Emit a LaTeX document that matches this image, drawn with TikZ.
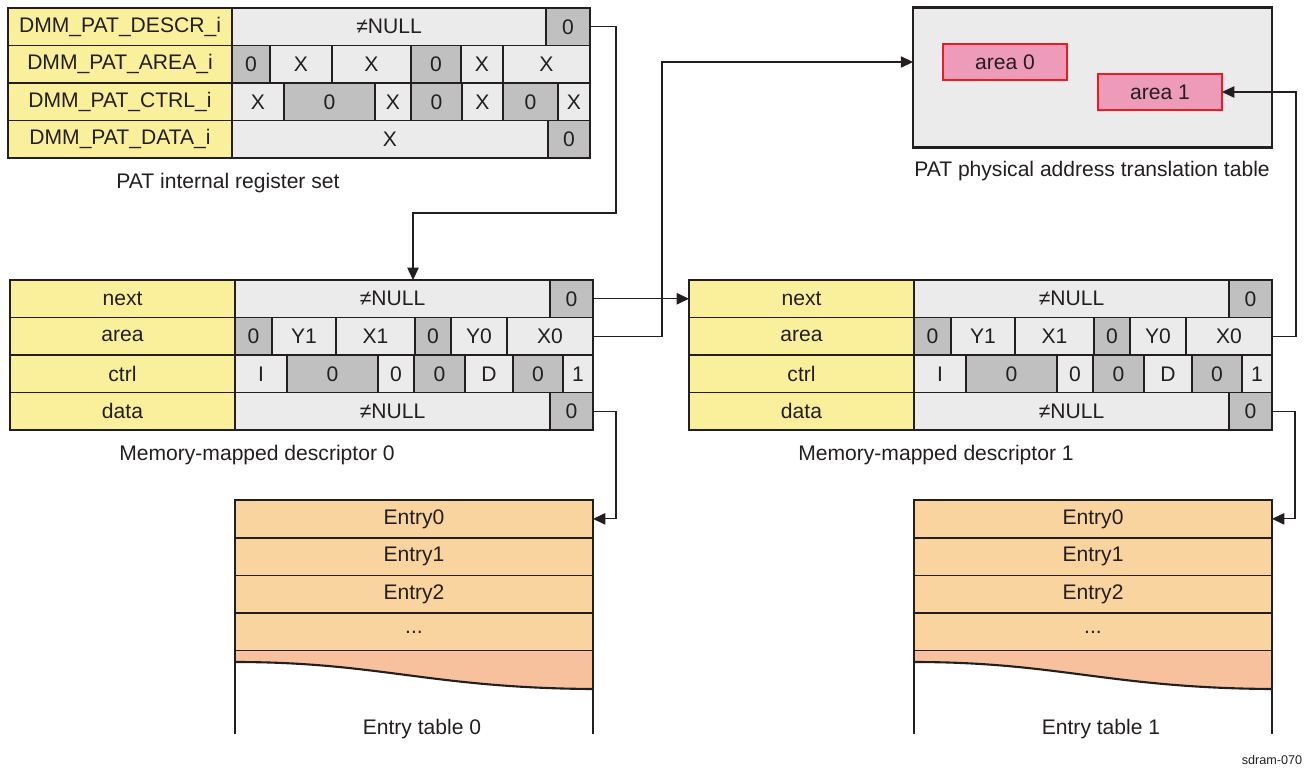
\documentclass[tikz,border=0pt]{standalone}
\usepackage{fontspec}
\setmainfont{Liberation Sans}
\usepackage{tikz}
\usetikzlibrary{arrows.meta,positioning,calc}
\definecolor{lbl}{HTML}{FAF09B}
\definecolor{lite}{HTML}{EBEBEB}
\definecolor{dark}{HTML}{C0C0C0}
\definecolor{entry}{HTML}{FAD49E}
\definecolor{tail}{HTML}{F7C19E}
\definecolor{areafill}{HTML}{EE9BB9}
\definecolor{areared}{HTML}{ED1C24}
\definecolor{ink}{HTML}{231F20}

\begin{document}
\begin{tikzpicture}[x=0.02cm, y=-0.02cm,
    every node/.style={font=\fontsize{12}{14}\selectfont, text=ink},
    fld/.style={rectangle, draw=ink, line width=1pt, inner sep=0pt, outer sep=0pt, minimum height=0.75cm},
    arr/.style={-{Triangle[length=7pt,width=6.5pt]}, line width=0.6pt, draw=ink},
  ]
  \useasboundingbox (0,0) rectangle (1307,767);

  % PAT internal register set, 4 rows of 37.5 starting at y=8
  \foreach \a/\b/\f/\t [count=\i] in {8/232/lbl/DMM\_PAT\_DESCR\_i, 232/546/lite/≠NULL, 546/590/dark/0}
    \node[fld, fill=\f, minimum width={(\b-\a)*0.02cm}] (rg-descr-\i) at ({(\a+\b)/2},26.75) {\t};
  \foreach \a/\b/\f/\t [count=\i] in {8/232/lbl/DMM\_PAT\_AREA\_i, 232/270/dark/0, 270/332/lite/X,
      332/411/lite/X, 411/461/dark/0, 461/503/lite/X, 503/590/lite/X}
    \node[fld, fill=\f, minimum width={(\b-\a)*0.02cm}] (rg-area-\i) at ({(\a+\b)/2},64.25) {\t};
  \foreach \a/\b/\f/\t [count=\i] in {8/232/lbl/DMM\_PAT\_CTRL\_i, 232/284/lite/X, 284/375/dark/0,
      375/411/lite/X, 411/462/dark/0, 462/503/lite/X, 503/558/dark/0, 558/590/lite/X}
    \node[fld, fill=\f, minimum width={(\b-\a)*0.02cm}] (rg-ctrl-\i) at ({(\a+\b)/2},101.75) {\t};
  \foreach \a/\b/\f/\t [count=\i] in {8/232/lbl/DMM\_PAT\_DATA\_i, 232/548/lite/X, 548/590/dark/0}
    \node[fld, fill=\f, minimum width={(\b-\a)*0.02cm}] (rg-data-\i) at ({(\a+\b)/2},139.25) {\t};
  \node (rg-cap) at (228,183) {PAT internal register set};

  % PAT physical address translation table
  \node[fld, line width=1.2pt, fill=lite, minimum width=7.18cm, minimum height=2.8cm] (pat) at (1092.5,77.5) {};
  \node[fld, draw=areared, line width=1.2pt, fill=areafill, minimum width=2.48cm, minimum height=0.72cm] (area0) at (1005,62) {area 0};
  \node[fld, draw=areared, line width=1.2pt, fill=areafill, minimum width=2.48cm, minimum height=0.72cm] (area1) at (1160,92) {area 1};
  \node (pat-cap) at (1092,171) {PAT physical address translation table};

  % Memory-mapped descriptors 0 and 1
  \foreach \d/\sx in {0/0, 1/679} {
    \begin{scope}[shift={(\sx,0)}]
      \foreach \a/\b/\f/\t [count=\i] in {10/235/lbl/next, 235/550/lite/≠NULL, 550/593/dark/0}
        \node[fld, fill=\f, minimum width={(\b-\a)*0.02cm}] (d\d-next-\i) at ({(\a+\b)/2},298.75) {\t};
      \foreach \a/\b/\f/\t [count=\i] in {10/235/lbl/area, 235/272/dark/0, 272/336/lite/Y1,
          336/415/lite/X1, 415/451/dark/0, 451/507/lite/Y0, 507/593/lite/X0}
        \node[fld, fill=\f, minimum width={(\b-\a)*0.02cm}] (d\d-area-\i) at ({(\a+\b)/2},336.25) {\t};
      \foreach \a/\b/\f/\t [count=\i] in {10/235/lbl/ctrl, 235/287/lite/I, 287/378/dark/0,
          378/414/lite/0, 414/465/dark/0, 465/513/lite/D, 513/563/dark/0, 563/593/lite/1}
        \node[fld, fill=\f, minimum width={(\b-\a)*0.02cm}] (d\d-ctrl-\i) at ({(\a+\b)/2},373.75) {\t};
      \foreach \a/\b/\f/\t [count=\i] in {10/235/lbl/data, 235/550/lite/≠NULL, 550/593/dark/0}
        \node[fld, fill=\f, minimum width={(\b-\a)*0.02cm}] (d\d-data-\i) at ({(\a+\b)/2},411.25) {\t};
      \node (d\d-cap) at (257,455) {Memory-mapped descriptor \d};

      % Entry table under the descriptor
      \foreach \t [count=\i from 0] in {Entry0, Entry1, Entry2, .{}.{}.}
        \node[fld, fill=entry, minimum width=7.16cm, minimum height=0.755cm] (e\d-\i) at (414,{518.875+37.75*\i}) {\t};
      \fill[tail] (e\d-3.south west) -- (e\d-3.south east) -- (593,689)
        .. controls (430,688) and (380,662) .. (235,662) -- cycle;
      \draw[line width=1.2pt, ink] (235,662) .. controls (380,662) and (430,688) .. (593,689);
      \draw[line width=1pt, ink] (e\d-0.north west) -- ++(0,234);
      \draw[line width=1pt, ink] (e\d-0.north east) -- ++(0,234);
      \node (e\d-cap) at (422,729) {Entry table \d};
    \end{scope}
    % data pointer to entry table
    \draw[arr] (d\d-data-3.east) -- ++(23,0) |- (e\d-0.east);
  }

  % Pointers
  \draw[arr] (rg-descr-3.east) -- ++(26,0) -- ++(0,186.25) -| ($(d0-next-2.north)+(20.5,0)$);
  \draw[arr] (d0-next-3.east) -- (d1-next-1.west);
  \draw[arr] (d0-area-7.east) -- ++(69,0) |- ($(pat.west)+(0,-15.5)$);
  \draw[arr] (d1-area-7.east) -- ++(24,0) |- (area1.east);

  \node[font=\fontsize{7.2}{9}\selectfont] (tag) at (1272,760) {sdram-070};
\end{tikzpicture}
\end{document}
